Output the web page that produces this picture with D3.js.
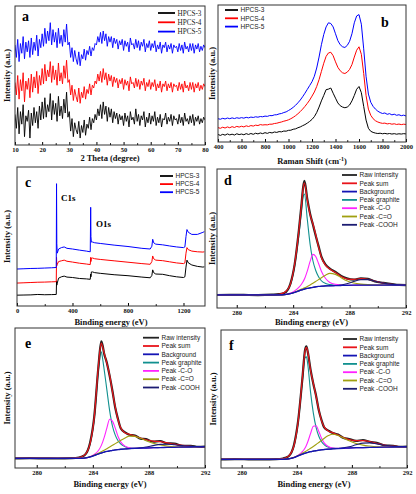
<!DOCTYPE html>
<html>
<head>
<meta charset="utf-8">
<script src="https://cdn.jsdelivr.net/npm/d3@7"></script>
<style>
  body { margin: 0; background: #fff; }
  svg { display: block; }
</style>
</head>
<body>
<svg id="chart" width="416" height="494"></svg>
<script>
// ---------- data ----------
const sampleNames = ["HPCS-3", "HPCS-4", "HPCS-5"];
const sampleColors = ["#000000", "#ff0000", "#0000ff"];

// (a) XRD, 2 theta 10..80 step 0.5
const xrdAngle = d3.range(10, 80.25, 0.5);
const xrdHPCS3 = [22, 12, 27, 8, 24, 15, 29, 6, 21, 17,
  25, 5, 23, 14, 27, 16, 24, 12, 28, 18,
  31, 19, 34, 20, 29, 24, 37, 18, 32, 22,
  30, 17, 35, 21, 28, 19, 33, 23, 38, 20,
  24, 10, 19, 6, 16, 11, 8, 17, 5, 14,
  9, 18, 7, 15, 12, 20, 11, 19, 16, 22,
  18, 26, 21, 29, 19, 31, 22, 28, 17, 27,
  20, 26, 16, 24, 19, 23, 15, 22, 18, 21,
  14, 23, 17, 21, 13, 24, 18, 20, 15, 26,
  17, 22, 14, 21, 18, 24, 13, 20, 16, 23,
  15, 21, 17, 24, 14, 20, 16, 22, 13, 19,
  18, 23, 15, 20, 17, 22, 14, 21, 18, 19,
  15, 22, 16, 20, 14, 23, 17, 19, 15, 21,
  16, 22, 14, 20, 17, 21, 15, 19, 16, 20, 18];
const xrdHPCS4 = [45, 36, 50, 33, 47, 39, 52, 31, 46, 40,
  48, 34, 51, 38, 49, 41, 53, 37, 50, 43,
  55, 44, 58, 46, 54, 49, 60, 45, 57, 47,
  54, 43, 59, 46, 52, 44, 57, 48, 61, 45,
  47, 36, 43, 32, 40, 35, 31, 41, 30, 38,
  34, 42, 33, 40, 37, 44, 36, 43, 41, 46,
  44, 51, 46, 53, 45, 55, 47, 52, 43, 51,
  46, 50, 42, 49, 45, 48, 41, 47, 44, 48,
  40, 47, 43, 46, 39, 49, 44, 45, 41, 48,
  42, 47, 40, 46, 43, 48, 39, 45, 42, 47,
  40, 45, 42, 47, 39, 44, 41, 46, 38, 44,
  42, 46, 39, 44, 41, 45, 38, 44, 42, 43,
  39, 45, 40, 44, 38, 46, 41, 43, 39, 45,
  40, 45, 38, 44, 41, 45, 39, 43, 40, 44, 42];
const xrdHPCS5 = [72, 63, 76, 60, 73, 66, 78, 62, 74, 67,
  75, 63, 77, 65, 74, 68, 79, 64, 76, 70,
  80, 71, 84, 73, 82, 75, 88, 72, 83, 74,
  81, 70, 84, 73, 79, 71, 83, 74, 87, 72,
  74, 63, 70, 60, 68, 62, 58, 67, 57, 65,
  62, 69, 61, 68, 65, 71, 64, 70, 68, 73,
  72, 78, 74, 81, 73, 82, 75, 80, 71, 78,
  74, 78, 70, 77, 73, 76, 69, 75, 72, 76,
  68, 75, 71, 74, 67, 77, 72, 73, 69, 76,
  70, 75, 68, 74, 71, 76, 67, 73, 70, 75,
  68, 73, 70, 75, 67, 72, 69, 74, 66, 72,
  70, 74, 67, 72, 69, 73, 66, 72, 70, 71,
  67, 73, 68, 72, 66, 74, 69, 71, 67, 73,
  68, 73, 66, 72, 69, 73, 67, 71, 68, 72, 70];

// (b) Raman, 400..2000 step 20
const ramanShift = d3.range(400, 2001, 20);
const ramanHPCS3 = [5.5, 4.8, 5.6, 5.0, 5.9, 5.2, 5.7, 5.1, 6.0, 5.4,
  5.8, 5.3, 6.1, 5.5, 6.2, 5.6, 6.4, 5.9, 6.6, 6.1,
  6.8, 6.3, 7.0, 6.6, 7.3, 7.0, 7.6, 7.4, 8.0, 7.9,
  8.5, 8.6, 9.3, 9.6, 10.4, 11.0, 11.9, 12.7, 13.8, 15.0,
  16.5, 18.5, 21.5, 25.5, 30.0, 34.0, 38.2, 38.6, 39.4, 35.6,
  32.0, 28.5, 26.5, 25.5, 25.0, 25.5, 27.0, 30.0, 34.0, 38.5,
  40.5, 36.0, 26.0, 16.0, 10.0, 7.8, 7.0, 6.5, 6.2, 6.4,
  6.0, 6.3, 5.9, 6.2, 5.8, 6.1, 5.7, 6.0, 5.8, 6.1, 5.9];
const ramanHPCS4 = [10.5, 10.0, 10.8, 10.2, 11.0, 10.4, 11.2, 10.6, 11.4, 10.9,
  11.5, 11.0, 11.8, 11.3, 12.0, 11.6, 12.3, 12.0, 12.7, 12.4,
  12.6, 12.5, 13.0, 13.0, 13.5, 13.7, 14.2, 14.6, 15.2, 15.6,
  16.2, 17.0, 18.0, 19.2, 20.6, 22.2, 24.0, 26.0, 28.2, 30.6,
  33.5, 36.5, 40.5, 45.5, 51.5, 57.5, 62.5, 65.0, 65.5, 63.0,
  58.5, 54.5, 52.0, 50.5, 50.0, 51.0, 53.0, 56.5, 62.0, 67.0,
  69.5, 64.0, 50.0, 34.0, 24.0, 19.5, 17.0, 15.5, 14.6, 14.0,
  13.6, 13.8, 13.2, 13.5, 13.0, 13.3, 12.8, 13.1, 12.7, 13.0, 12.8];
const ramanHPCS5 = [17.0, 16.6, 17.3, 16.8, 17.5, 17.0, 17.6, 17.1, 17.7, 17.3,
  17.8, 17.4, 18.0, 17.6, 18.2, 17.9, 18.4, 18.1, 18.6, 18.4,
  18.9, 18.7, 19.3, 19.2, 19.8, 19.9, 20.5, 20.8, 21.5, 22.0,
  23.0, 24.0, 25.3, 26.8, 28.6, 30.6, 33.0, 35.6, 38.4, 41.2,
  44.0, 48.0, 54.0, 62.0, 71.0, 78.5, 84.0, 87.0, 86.5, 84.0,
  79.0, 74.0, 71.0, 69.5, 69.0, 70.5, 73.5, 79.0, 87.0, 92.0,
  93.0, 86.0, 68.0, 48.0, 35.0, 29.0, 26.0, 24.0, 22.5, 21.5,
  20.8, 21.2, 20.2, 20.7, 19.8, 20.3, 19.5, 19.9, 19.2, 19.6, 19.0];

// (c) XPS survey
const surveyEnergy = [0, 50, 100, 150, 200, 250, 283, 285, 287, 290, 300, 320, 340, 360,
  400, 450, 500, 528, 531, 533, 536, 545, 560, 600, 700, 800, 900, 960, 972, 978, 985,
  1000, 1050, 1100, 1150, 1200, 1210, 1218, 1225, 1235, 1260, 1300, 1340, 1350];
const surveyHPCS3 = [7.8, 7.9, 8.0, 8.3, 8.1, 8.2, 8.3, 18, 15, 16.5, 20, 21, 21.5, 20.8,
  20.5, 19.8, 19.5, 19.2, 23, 21, 24.5, 24.5, 24.0, 23.5, 22.5, 21.8, 20.8, 20.3, 22, 26, 24,
  23, 22.8, 21.8, 21, 20.5, 21, 28, 33, 31, 29.5, 28.5, 28, 28.2];
const surveyHPCS4 = [16.5, 16.7, 16.9, 17.1, 17.2, 17.4, 17.5, 35, 29, 30, 32, 32.5, 33, 32.2,
  31.6, 30.8, 30.2, 29.8, 35, 32, 34.5, 34.5, 34, 33.5, 32.5, 31.5, 30.5, 30, 32, 36, 34,
  33, 32.6, 31.8, 31, 30.5, 31, 38, 42, 40.5, 39.5, 39, 38.8, 39];
const surveyHPCS5 = [26.6, 26.8, 27, 27.1, 27.3, 27.5, 27.7, 88, 45, 38, 41, 42, 42.5, 41.5,
  41, 40.2, 39.5, 39, 71, 50, 46, 46, 45.5, 45, 43.8, 42.8, 41.5, 41, 43, 48, 45.5,
  44.5, 44, 43.2, 42.5, 42, 42.5, 50, 55, 53, 51.5, 51.5, 53, 53.5];

// (d)(e)(f) C1s fits
const c1sNames = ["Raw intensity", "Peak sum", "Background", "Peak graphite", "Peak -C-O", "Peak -C=O", "Peak -COOH"];
const c1sColors = ["#222222", "#e8141a", "#1414b4", "#11908f", "#ff22ff", "#a0a010", "#1c1c72"];
const c1sEnergy = [278.4, 279.5, 280.5, 281.5, 282.5, 283, 283.4, 283.8, 284.1, 284.4, 284.6, 284.7,
  284.8, 285.0, 285.2, 285.4, 285.6, 285.8, 286.0, 286.3, 286.6, 287.0, 287.4, 287.8, 288.3, 288.8,
  289.3, 289.8, 290.4, 291.0, 291.5, 292];

const dRaw = [9.3, 9.5, 9.4, 9.3, 9.6, 10.0, 11.0, 17.4, 31.0, 55.5, 75.4, 86.5, 91.5, 78.5, 67.8, 60.0,
  52.0, 44.5, 37.0, 31.2, 28.4, 25.9, 23.1, 21.3, 20.4, 21.4, 20.9, 19.1, 18.1, 17.2, 16.6, 16.5];
const dSum = [9.4, 9.4, 9.4, 9.4, 9.5, 9.9, 11.3, 17.0, 31.3, 54.9, 74.9, 85.8, 90.1, 77.8, 67.1, 60.6,
  52.7, 43.9, 36.5, 30.6, 28.1, 25.5, 22.7, 21.0, 20.6, 21.1, 20.7, 19.4, 17.9, 17.0, 16.7, 16.6];
const dBackground = [9.4, 9.4, 9.4, 9.4, 9.4, 9.4, 9.6, 10.3, 11.2, 12.3, 13.0, 13.3, 13.6, 14.1, 14.5, 14.9,
  15.2, 15.5, 15.7, 15.9, 16.0, 16.1, 16.2, 16.3, 16.4, 16.5, 16.5, 16.5, 16.5, 16.5, 16.5, 16.5];
const dGraphite = [9.4, 9.4, 9.4, 9.4, 9.5, 9.9, 11.2, 16.5, 30, 52, 70, 79.5, 82, 64, 46, 34,
  27, 22.5, 19.6, 17.6, 16.8, 16.4, 16.3, 16.4, 16.4, 16.5, 16.5, 16.5, 16.5, 16.5, 16.5, 16.5];
const dCO = [9.4, 9.4, 9.4, 9.4, 9.4, 9.4, 9.7, 10.7, 12.3, 14.8, 17.3, 18.9, 20.8, 26.5, 33.5, 38.6,
  37.0, 32.0, 26.5, 21.2, 18.4, 17.0, 16.6, 16.4, 16.4, 16.5, 16.5, 16.5, 16.5, 16.5, 16.5, 16.5];
const dCdO = [9.4, 9.4, 9.4, 9.4, 9.4, 9.4, 9.6, 10.4, 11.4, 12.7, 13.6, 14.0, 14.5, 15.5, 16.6, 17.8,
  19.1, 20.4, 21.8, 23.6, 24.9, 24.2, 21.8, 19.6, 18.0, 17.2, 16.8, 16.6, 16.5, 16.5, 16.5, 16.5];
const dCOOH = [9.4, 9.4, 9.4, 9.4, 9.4, 9.4, 9.6, 10.3, 11.2, 12.3, 13.0, 13.3, 13.6, 14.1, 14.5, 14.9,
  15.2, 15.5, 15.7, 15.9, 16.0, 16.2, 16.6, 17.5, 19.0, 20.4, 20.4, 19.3, 17.9, 17.0, 16.7, 16.6];

const eRaw = [6.8, 7.0, 6.9, 6.8, 7.0, 7.5, 9.0, 17.8, 36.5, 72.5, 90.5, 87.5, 82.0, 75.2, 65.8, 55.0,
  43.0, 34.8, 28.2, 25.4, 23.8, 23.2, 21.0, 20.6, 18.8, 19.3, 17.6, 17.5, 15.8, 15.9, 15.1, 15.3];
const eSum = [6.9, 6.9, 6.9, 6.9, 6.9, 7.4, 9.2, 17.3, 36.0, 73.1, 89.2, 86.6, 82.6, 74.7, 66.4, 54.5,
  43.6, 34.2, 28.5, 25.0, 24.1, 22.8, 21.4, 20.2, 19.2, 18.8, 18.0, 17.0, 16.1, 15.5, 15.3, 15.2];
const eBackground = [6.9, 6.9, 6.9, 6.9, 6.9, 6.9, 7.1, 7.9, 8.9, 10.0, 10.7, 11.0, 11.3, 11.8, 12.2, 12.6,
  12.9, 13.2, 13.4, 13.6, 13.8, 14.0, 14.2, 14.3, 14.5, 14.6, 14.7, 14.8, 14.9, 15.0, 15.1, 15.2];
const eGraphite = [6.9, 6.9, 6.9, 6.9, 6.9, 7.4, 9.2, 17, 35, 70, 83, 78, 71, 56, 41, 30,
  23.5, 19.5, 17.0, 15.2, 14.4, 14.1, 14.2, 14.3, 14.5, 14.6, 14.7, 14.8, 14.9, 15.0, 15.1, 15.2];
const eCO = [6.9, 6.9, 6.9, 6.9, 6.9, 6.9, 7.1, 8.1, 9.6, 12.5, 16.0, 18.5, 21.5, 28.5, 34.8, 33.5,
  28.5, 22.5, 18.5, 15.6, 14.5, 14.1, 14.2, 14.3, 14.5, 14.6, 14.7, 14.8, 14.9, 15.0, 15.1, 15.2];
const eCdO = [6.9, 6.9, 6.9, 6.9, 6.9, 6.9, 7.1, 8.0, 9.2, 10.6, 11.6, 12.1, 12.7, 13.8, 15.0, 16.2,
  17.4, 18.6, 19.8, 21.4, 22.8, 22.6, 21.2, 19.5, 17.7, 16.5, 15.7, 15.2, 15.0, 15.0, 15.1, 15.2];
const eCOOH = [6.9, 6.9, 6.9, 6.9, 6.9, 6.9, 7.1, 7.9, 8.9, 10.0, 10.7, 11.0, 11.3, 11.8, 12.2, 12.6,
  12.9, 13.2, 13.4, 13.6, 13.8, 14.0, 14.4, 15.0, 16.0, 16.9, 17.0, 16.6, 16.0, 15.5, 15.3, 15.2];

const fRaw = [6.2, 6.4, 6.3, 6.2, 6.4, 6.9, 8.4, 16.8, 34.3, 64.0, 85.6, 88.2, 84.0, 71.3, 61.0, 52.4,
  41.8, 34.6, 29.2, 27.1, 25.3, 24.2, 21.7, 21.0, 19.6, 20.3, 18.9, 18.3, 16.3, 16.1, 15.3, 15.6];
const fSum = [6.3, 6.3, 6.3, 6.3, 6.3, 6.8, 8.6, 16.3, 33.8, 64.5, 84.9, 87.4, 84.4, 70.7, 61.5, 51.9,
  42.2, 34.1, 29.6, 26.7, 25.6, 23.8, 22.0, 20.6, 19.9, 19.8, 19.2, 17.9, 16.6, 15.8, 15.5, 15.4];
const fBackground = [6.3, 6.3, 6.3, 6.3, 6.3, 6.3, 6.6, 7.6, 8.8, 10.0, 10.7, 11.0, 11.3, 11.8, 12.2, 12.6,
  12.9, 13.2, 13.4, 13.7, 13.9, 14.1, 14.3, 14.5, 14.7, 14.8, 14.9, 15.0, 15.1, 15.2, 15.3, 15.4];
const fGraphite = [6.3, 6.3, 6.3, 6.3, 6.3, 6.8, 8.6, 16, 33, 62, 80, 80.5, 75, 55, 40, 29.5,
  23, 19, 16.8, 15, 14.4, 14.2, 14.3, 14.5, 14.7, 14.8, 14.9, 15.0, 15.1, 15.2, 15.3, 15.4];
const fCO = [6.3, 6.3, 6.3, 6.3, 6.3, 6.3, 6.6, 7.8, 9.3, 11.8, 14.5, 16.5, 19.0, 25.0, 30.3, 30.6,
  26.5, 21.5, 18.0, 15.6, 14.5, 14.2, 14.3, 14.5, 14.7, 14.8, 14.9, 15.0, 15.1, 15.2, 15.3, 15.4];
const fCdO = [6.3, 6.3, 6.3, 6.3, 6.3, 6.3, 6.6, 7.7, 9.1, 10.7, 11.8, 12.4, 13.0, 14.3, 15.6, 17.0,
  18.5, 20.0, 21.6, 23.5, 24.5, 23.6, 21.7, 19.7, 17.8, 16.6, 15.9, 15.4, 15.2, 15.2, 15.3, 15.4];
const fCOOH = [6.3, 6.3, 6.3, 6.3, 6.3, 6.3, 6.6, 7.6, 8.8, 10.0, 10.7, 11.0, 11.3, 11.8, 12.2, 12.6,
  12.9, 13.2, 13.4, 13.7, 13.9, 14.1, 14.6, 15.4, 16.8, 18.0, 18.2, 17.5, 16.5, 15.8, 15.5, 15.4];

// ---------- drawing ----------
const serif = "'Liberation Serif','Times New Roman',serif";
const sans = "'Liberation Sans',Arial,sans-serif";
const svg = d3.select("#chart");

function drawPanel(p) {
  const [left, right, top, bottom] = p.box;
  const x = d3.scaleLinear().domain(p.xDomain).range([left, right]);
  const y = d3.scaleLinear().domain([0, 100]).range([bottom, top]);
  const g = svg.append("g");

  g.append("clipPath").attr("id", "clip-" + p.id)
    .append("rect").attr("x", left).attr("y", top)
    .attr("width", right - left).attr("height", bottom - top);

  const plot = g.append("g").attr("clip-path", `url(#clip-${p.id})`);
  p.series.forEach(s => {
    const line = d3.line()
      .x((d, i) => x(s.xs[i]))
      .y(d => y(d))
      .curve(p.curve || d3.curveLinear);
    plot.append("path")
      .attr("d", line(s.values))
      .attr("fill", "none")
      .attr("stroke", s.color)
      .attr("stroke-width", s.width || 1)
      .attr("stroke-linejoin", "round");
  });

  // minor + major ticks, pointing inward
  g.append("g").attr("transform", `translate(0,${bottom})`)
    .call(d3.axisBottom(x).tickValues(p.minor).tickSize(-1.8).tickFormat(""))
    .call(a => a.select(".domain").remove());
  g.append("g").attr("transform", `translate(0,${bottom})`)
    .call(d3.axisBottom(x).tickValues(p.major).tickSize(-3).tickPadding(2.5).tickFormat(d3.format("d")))
    .call(a => a.select(".domain").remove())
    .call(a => a.selectAll("text").attr("font-family", serif).attr("font-size", 6.5)
      .attr("font-weight", "bold").attr("fill", "#111"));

  g.append("rect").attr("x", left).attr("y", top)
    .attr("width", right - left).attr("height", bottom - top)
    .attr("fill", "none").attr("stroke", "#333").attr("stroke-width", 1);

  // axis titles
  const xt = g.append("text").attr("x", (left + right) / 2).attr("y", p.xTitleY)
    .attr("text-anchor", "middle").attr("font-family", serif).attr("font-weight", "bold")
    .attr("font-size", 8.5).attr("fill", "#111").text(p.xTitle);
  if (p.xTitleSup) {
    xt.append("tspan").attr("baseline-shift", "super").attr("font-size", 6).text(p.xTitleSup);
    xt.append("tspan").text(")");
  }
  g.append("text")
    .attr("transform", `translate(${p.yTitleX},${(top + bottom) / 2}) rotate(-90)`)
    .attr("text-anchor", "middle").attr("dy", "0.35em")
    .attr("font-family", serif).attr("font-weight", "bold").attr("font-size", 8.5)
    .attr("fill", "#111").text("Intensity (a.u.)");

  // panel letter
  g.append("text").attr("x", p.letterPos[0]).attr("y", p.letterPos[1])
    .attr("font-family", serif).attr("font-weight", "bold").attr("font-size", 14)
    .attr("fill", "#000").text(p.letter);

  // legend
  const lg = p.legend;
  lg.names.forEach((name, i) => {
    const ly = lg.y + i * lg.step;
    g.append("line").attr("x1", lg.x).attr("x2", lg.x + lg.len)
      .attr("y1", ly).attr("y2", ly)
      .attr("stroke", lg.colors[i]).attr("stroke-width", 1.8);
    g.append("text").attr("x", lg.x + lg.len + 2.5).attr("y", ly).attr("dy", "0.35em")
      .attr("font-family", lg.font).attr("font-size", lg.size).attr("fill", "#222").text(name);
  });

  return { g, x, y };
}

// (a) XRD
drawPanel({
  id: "a", box: [15, 205, 6, 145], xDomain: [10, 80],
  major: d3.range(10, 81, 10), minor: d3.range(15, 80, 10),
  series: [
    { xs: xrdAngle, values: xrdHPCS3, color: sampleColors[0], width: 0.9 },
    { xs: xrdAngle, values: xrdHPCS4, color: sampleColors[1], width: 0.9 },
    { xs: xrdAngle, values: xrdHPCS5, color: sampleColors[2], width: 0.9 }
  ],
  xTitle: "2 Theta (degree)", xTitleY: 161, yTitleX: 7,
  letter: "a", letterPos: [22, 21],
  legend: { names: sampleNames, colors: sampleColors, x: 158, y: 13, step: 9.3, len: 17, font: serif, size: 7.2 }
});

// (b) Raman
drawPanel({
  id: "b", box: [218, 406, 5, 142], xDomain: [400, 2000],
  major: d3.range(400, 2001, 200), minor: d3.range(500, 2000, 200),
  series: [
    { xs: ramanShift, values: ramanHPCS3, color: sampleColors[0] },
    { xs: ramanShift, values: ramanHPCS4, color: sampleColors[1] },
    { xs: ramanShift, values: ramanHPCS5, color: sampleColors[2] }
  ],
  xTitle: "Raman Shift (cm", xTitleSup: "-1", xTitleY: 164, yTitleX: 212,
  letter: "b", letterPos: [381, 27],
  legend: { names: sampleNames, colors: sampleColors, x: 225, y: 10, step: 8.3, len: 13, font: sans, size: 6.5 }
});

// (c) XPS survey
const pc = drawPanel({
  id: "c", box: [17, 205, 167, 306], xDomain: [0, 1355],
  major: [0, 400, 800, 1200], minor: [200, 600, 1000],
  series: [
    { xs: surveyEnergy, values: surveyHPCS3, color: sampleColors[0] },
    { xs: surveyEnergy, values: surveyHPCS4, color: sampleColors[1] },
    { xs: surveyEnergy, values: surveyHPCS5, color: sampleColors[2] }
  ],
  xTitle: "Binding energy (eV)", xTitleY: 324.5, yTitleX: 7,
  letter: "c", letterPos: [25, 187],
  legend: { names: sampleNames, colors: sampleColors, x: 160, y: 176, step: 8.1, len: 13, font: sans, size: 6.5 }
});
pc.g.append("text").attr("x", 61).attr("y", 201).attr("font-family", serif)
  .attr("font-weight", "bold").attr("font-size", 9).text("C1s");
pc.g.append("text").attr("x", 96).attr("y", 227).attr("font-family", serif)
  .attr("font-weight", "bold").attr("font-size", 9).text("O1s");

// (d)(e)(f) C1s fits
function c1sSeries(raw, sum, bg, graphite, co, cdo, cooh) {
  return [
    { xs: c1sEnergy, values: graphite, color: c1sColors[3], width: 1.1 },
    { xs: c1sEnergy, values: raw, color: c1sColors[0], width: 2.2 },
    { xs: c1sEnergy, values: sum, color: c1sColors[1], width: 1.2 },
    { xs: c1sEnergy, values: co, color: c1sColors[4], width: 1.1 },
    { xs: c1sEnergy, values: cdo, color: c1sColors[5], width: 1.1 },
    { xs: c1sEnergy, values: cooh, color: c1sColors[6], width: 1.1 },
    { xs: c1sEnergy, values: bg, color: c1sColors[2], width: 1.3 }
  ];
}

drawPanel({
  id: "d", box: [217, 406, 169, 308], xDomain: [278.6, 292],
  major: [280, 284, 288, 292], minor: [282, 286, 290], curve: d3.curveMonotoneX,
  series: c1sSeries(dRaw, dSum, dBackground, dGraphite, dCO, dCdO, dCOOH),
  xTitle: "Binding energy (eV)", xTitleY: 324.5, yTitleX: 212,
  letter: "d", letterPos: [224, 185],
  legend: { names: c1sNames, colors: c1sColors, x: 342, y: 175, step: 8.3, len: 15, font: sans, size: 6.5 }
});

drawPanel({
  id: "e", box: [15, 205, 328, 468], xDomain: [278.45, 292],
  major: [280, 284, 288, 292], minor: [282, 286, 290], curve: d3.curveMonotoneX,
  series: c1sSeries(eRaw, eSum, eBackground, eGraphite, eCO, eCdO, eCOOH),
  xTitle: "Binding energy (eV)", xTitleY: 487, yTitleX: 7,
  letter: "e", letterPos: [25, 348],
  legend: { names: c1sNames, colors: c1sColors, x: 143, y: 337.7, step: 8.3, len: 16, font: sans, size: 6.5 }
});

drawPanel({
  id: "f", box: [221, 407, 330, 468], xDomain: [278.5, 292],
  major: [280, 284, 288, 292], minor: [282, 286, 290], curve: d3.curveMonotoneX,
  series: c1sSeries(fRaw, fSum, fBackground, fGraphite, fCO, fCdO, fCOOH),
  xTitle: "Binding energy (eV)", xTitleY: 487, yTitleX: 213,
  letter: "f", letterPos: [229, 350],
  legend: { names: c1sNames, colors: c1sColors, x: 343, y: 339, step: 8.3, len: 14, font: sans, size: 6.5 }
});
</script>
</body>
</html>
